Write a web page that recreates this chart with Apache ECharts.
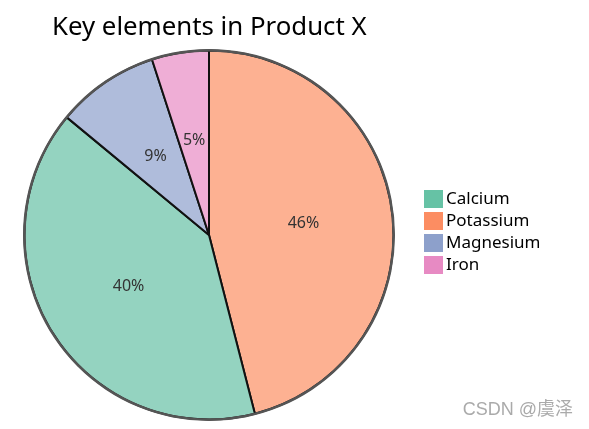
<!DOCTYPE html>
<html>
<head>
<meta charset="utf-8">
<script src="https://cdn.jsdelivr.net/npm/echarts@6/dist/echarts.min.js"></script>
<style>
  html, body { margin: 0; padding: 0; background: #fff; }
  #chart { width: 589px; height: 429px; }
</style>
</head>
<body>
<div id="chart"></div>
<script>
// data, drawn clockwise from 12 o'clock
const names = ['Potassium', 'Calcium', 'Magnesium', 'Iron']
const values = [46, 40, 9, 5]
const legendOrder = ['Calcium', 'Potassium', 'Magnesium', 'Iron']
const legendColors = ['#fc8d62', '#66c2a5', '#8da0cb', '#e78ac3']
const sliceColors = ['#fdb192', '#94d3c0', '#afbcdb', '#efaed6']

;(function () {
  let myChart = echarts.init(document.getElementById('chart'))
  let data = names.map((n, i) => ({
    name: n,
    value: values[i],
    itemStyle: { color: sliceColors[i] }
  }))
  let option = {
    animation: false,
    title: {
      text: 'Key elements in Product X',
      left: 47,
      top: 10,
      textStyle: {
        fontFamily: 'Noto Sans',
        fontSize: 25.8,
        fontWeight: 'normal',
        color: '#000'
      }
    },
    legend: {
      orient: 'vertical',
      left: 424,
      top: 190,
      padding: 0,
      itemWidth: 19,
      itemHeight: 18,
      itemGap: 4,
      icon: 'rect',
      data: legendOrder.map(n => ({
        name: n,
        itemStyle: { color: legendColors[names.indexOf(n)], borderWidth: 0 }
      })),
      textStyle: { fontFamily: 'Noto Sans', fontSize: 17, lineHeight: 18, color: '#000', padding: [0, 0, 0, -2] }
    },
    graphic: [{
      type: 'text',
      right: 16,
      bottom: 10,
      style: { text: 'CSDN @虞泽', fill: '#aaa', font: '18px "Liberation Sans", "Noto Sans CJK SC"' }
    }],
    series: [
      {
        type: 'pie',
        center: [209, 235],
        radius: [0, 184.5],
        startAngle: 90,
        clockwise: true,
        label: {
          show: true,
          position: 'inside',
          formatter: '{d}%',
          fontFamily: 'Noto Sans',
          fontSize: 16,
          color: '#333'
        },
        itemStyle: { borderColor: '#111', borderWidth: 2 },
        emphasis: { disabled: true },
        data: data
      },
      {
        // grey outline drawn over the outer edge
        type: 'pie',
        center: [209, 235],
        radius: [183.5, 186],
        z: 5,
        silent: true,
        label: { show: false },
        labelLine: { show: false },
        itemStyle: { color: '#555' },
        data: [{ name: 'ring', value: 1 }],
        legendHoverLink: false
      }
    ]
  }
  myChart.setOption(option)
})()
</script>
</body>
</html>
